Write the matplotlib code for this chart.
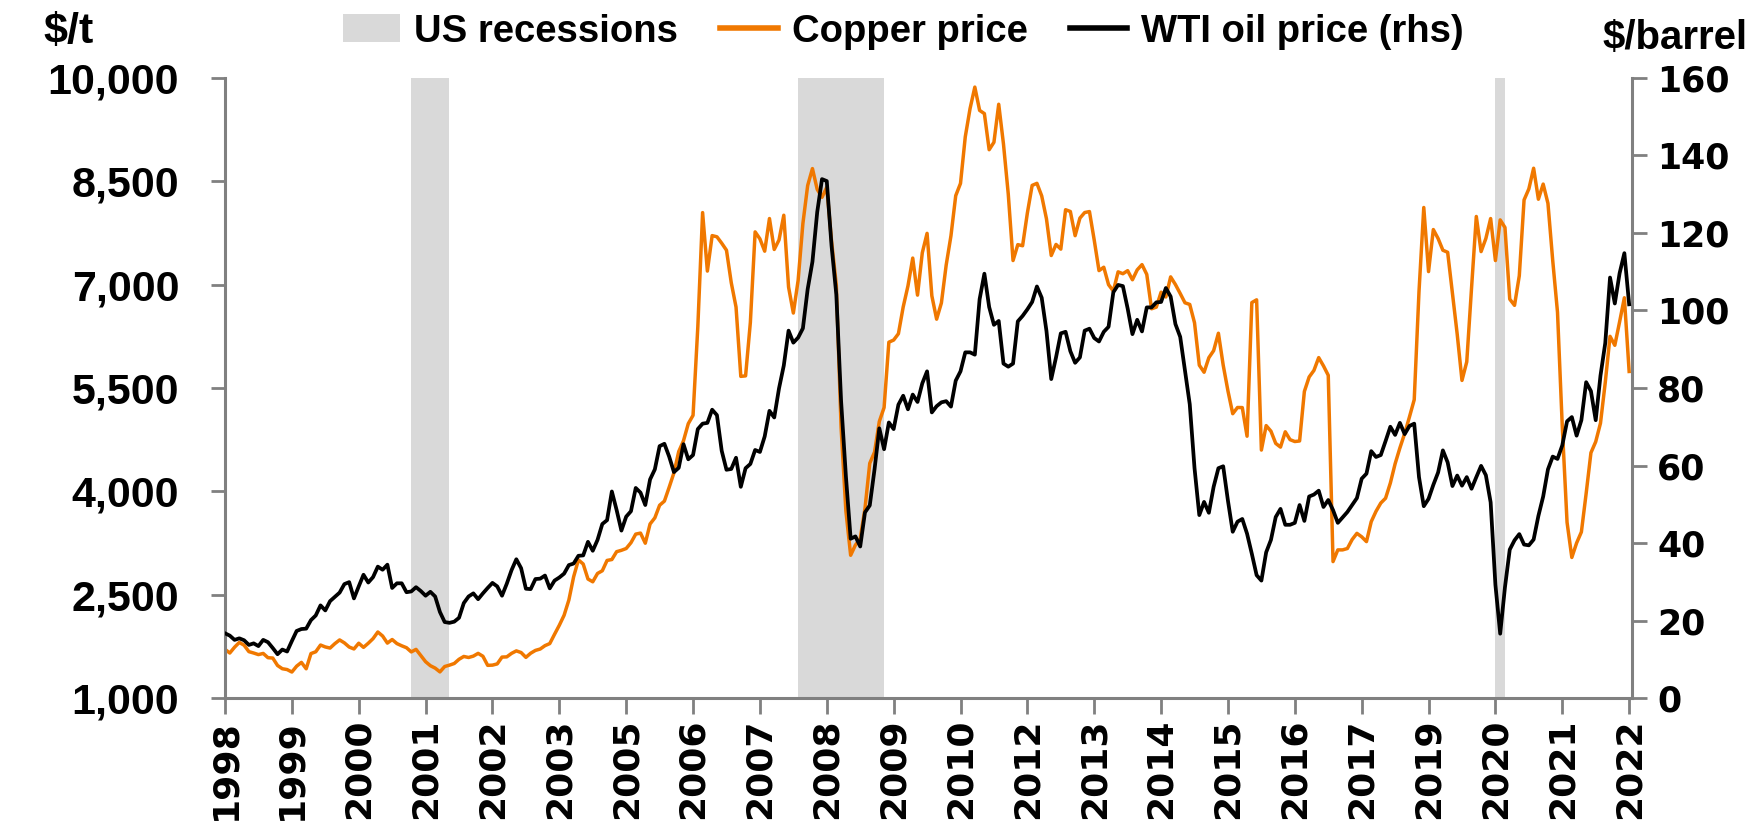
import matplotlib.pyplot as plt
import matplotlib.patches as mpatches
import matplotlib.lines as mlines
import pandas as pd


# monthly data, Jan 1998 .. Jul 2022
dates = pd.date_range('1998-01-01', periods=295, freq='MS')

copper = [
	1707, 1653, 1737, 1807, 1766, 1673, 1653, 1630, 1647, 1585, 1580, 1472,
	1425, 1413, 1377, 1462, 1517, 1424, 1645, 1671, 1769, 1741, 1725, 1789,
	1843, 1800, 1740, 1712, 1795, 1735, 1795, 1862, 1958, 1900, 1797, 1849,
	1790, 1758, 1730, 1669, 1706, 1616, 1527, 1469, 1434, 1379, 1457, 1477,
	1501, 1562, 1603, 1588, 1608, 1648, 1606, 1474, 1477, 1495, 1594, 1597,
	1648, 1684, 1660, 1590, 1650, 1691, 1711, 1760, 1790, 1925, 2056, 2201,
	2423, 2760, 3005, 2945, 2727, 2687, 2808, 2847, 2997, 3010, 3124, 3144,
	3170, 3254, 3379, 3394, 3247, 3526, 3615, 3798, 3858, 4059, 4269, 4577,
	4734, 4982, 5103, 6388, 8046, 7197, 7712, 7695, 7602, 7500, 7029, 6675,
	5669, 5676, 6452, 7766, 7665, 7486, 7960, 7511, 7649, 8008, 6965, 6588,
	7061, 7888, 8439, 8685, 8383, 8268, 8414, 7634, 6990, 4926, 3717, 3072,
	3221, 3315, 3750, 4407, 4569, 5014, 5216, 6165, 6196, 6288, 6676, 6982,
	7386, 6848, 7463, 7745, 6838, 6499, 6735, 7284, 7709, 8292, 8470, 9147,
	9556, 9868, 9530, 9483, 8959, 9067, 9619, 9040, 8315, 7350, 7581, 7565,
	8040, 8441, 8471, 8289, 7955, 7423, 7584, 7516, 8088, 8062, 7711, 7966,
	8047, 8061, 7646, 7204, 7253, 7000, 6907, 7186, 7159, 7203, 7071, 7215,
	7291, 7149, 6650, 6674, 6891, 6821, 7113, 7002, 6872, 6737, 6713, 6446,
	5831, 5729, 5940, 6042, 6295, 5833, 5457, 5127, 5217, 5216, 4800, 6740,
	6780, 4599, 4954, 4873, 4696, 4642, 4864, 4750, 4723, 4731, 5450, 5660,
	5755, 5941, 5821, 5684, 2980, 3150, 3150, 3170, 3300, 3390, 3340, 3270,
	3560, 3710, 3830, 3900, 4120, 4400, 4630, 4840, 5080, 5330, 6900, 8120,
	7190, 7800, 7670, 7500, 7470, 6870, 6280, 5610, 5880, 6950, 7990, 7480,
	7670, 7960, 7350, 7940, 7830, 6790, 6700, 7130, 8230, 8390, 8690, 8240,
	8460, 8180, 7350, 6600, 4940, 3550, 3040, 3250, 3410, 3970, 4560, 4720,
	4990, 5580, 6250, 6120, 6460, 6810, 5740,
]

wti = [
	16.7, 16.1, 15.0, 15.4, 14.9, 13.7, 14.1, 13.4, 15.0, 14.4, 12.9, 11.3,
	12.5, 12.0, 14.7, 17.3, 17.8, 17.9, 20.1, 21.3, 23.9, 22.6, 25.0, 26.1,
	27.2, 29.4, 29.9, 25.7, 28.8, 31.8, 29.8, 31.2, 33.9, 33.1, 34.4, 28.4,
	29.6, 29.6, 27.3, 27.5, 28.6, 27.6, 26.4, 27.4, 26.2, 22.2, 19.6, 19.4,
	19.7, 20.7, 24.5, 26.2, 27.0, 25.5, 27.0, 28.4, 29.7, 28.8, 26.4, 29.5,
	33.0, 35.8, 33.5, 28.2, 28.1, 30.7, 30.8, 31.6, 28.3, 30.3, 31.1, 32.1,
	34.3, 34.7, 36.7, 36.8, 40.3, 38.0, 40.8, 44.9, 45.9, 53.3, 48.5, 43.2,
	46.8, 48.2, 54.2, 53.0, 49.8, 56.4, 59.0, 65.0, 65.6, 62.3, 58.3, 59.4,
	65.5, 61.6, 62.7, 69.4, 70.8, 71.0, 74.4, 73.0, 63.8, 58.9, 59.1, 62.0,
	54.5, 59.3, 60.4, 64.0, 63.5, 67.5, 74.1, 72.4, 79.9, 85.8, 94.8, 91.7,
	93.0, 95.4, 105.5, 112.6, 125.4, 133.9, 133.4, 116.7, 104.1, 76.6, 57.3, 41.1,
	41.7, 39.1, 47.9, 49.7, 59.0, 69.6, 64.2, 71.1, 69.4, 75.7, 78.0, 74.5,
	78.3, 76.4, 81.2, 84.3, 73.7, 75.3, 76.3, 76.6, 75.2, 81.9, 84.3, 89.2,
	89.2, 88.6, 102.9, 109.5, 100.9, 96.3, 97.3, 86.3, 85.5, 86.3, 97.2, 98.6,
	100.3, 102.2, 106.2, 103.3, 94.7, 82.3, 87.9, 94.1, 94.5, 89.5, 86.5, 87.9,
	94.8, 95.3, 92.9, 92.0, 94.5, 95.8, 104.7, 106.6, 106.3, 100.5, 93.9, 97.6,
	94.6, 100.8, 100.8, 102.1, 102.2, 105.8, 103.6, 96.5, 93.2, 84.4, 75.8, 59.3,
	47.2, 50.6, 47.8, 54.5, 59.3, 59.8, 50.9, 42.9, 45.5, 46.2, 42.4, 37.2,
	31.7, 30.3, 37.6, 40.8, 46.7, 48.8, 44.7, 44.7, 45.2, 49.8, 45.7, 52.0,
	52.5, 53.5, 49.3, 51.1, 48.5, 45.2, 46.6, 48.0, 49.8, 51.6, 56.6, 57.9,
	63.7, 62.2, 62.7, 66.3, 70.0, 67.9, 71.0, 68.1, 70.2, 70.8, 57.0, 49.5,
	51.4, 55.0, 58.2, 63.9, 60.8, 54.7, 57.4, 54.8, 57.0, 54.0, 57.0, 59.9,
	57.5, 50.5, 29.2, 16.6, 28.6, 38.3, 40.7, 42.3, 39.6, 39.4, 40.9, 47.0,
	52.0, 59.0, 62.3, 61.7, 65.2, 71.4, 72.5, 67.7, 71.7, 81.5, 79.2, 71.7,
	83.2, 91.6, 108.5, 101.8, 109.6, 114.8, 101.6,
]

recessions = [('2001-04', '2001-11'), ('2008-01', '2009-06'), ('2020-03', '2020-04')]

copper_ticks = [1000, 2500, 4000, 5500, 7000, 8500, 10000]
oil_ticks = [0, 20, 40, 60, 80, 100, 120, 140, 160]

orange = '#f07800'
grey = '#808080'
label_font = ['Liberation Sans', 'DejaVu Sans']


def month_pos(s):
	d = pd.Timestamp(s + '-01')
	return (d.year - dates[0].year) * 12 + d.month - dates[0].month


x = list(range(len(dates)))

fig = plt.figure(figsize=(17.53, 8.36), dpi=100)
ax = fig.add_axes([0.12835, 0.16507, 0.80263, 0.74163])
ax2 = ax.twinx()

for start, end in recessions:
	ax.axvspan(month_pos(start), month_pos(end) + 1, color='#d9d9d9', lw=0, zorder=0)

ax.plot(x, copper, color=orange, lw=2.5, zorder=2)
ax2.plot(x, wti, color='black', lw=2.7, zorder=3)

ax.set_xlim(0, 294.6)
ax.set_ylim(1000, 10000)
ax2.set_ylim(0, 160)

ax.set_yticks(copper_ticks)
ax.set_yticklabels([f'{v:,}' for v in copper_ticks], family='Liberation Sans', weight='bold', fontsize=31)
ax2.set_yticks(oil_ticks)
ax2.set_yticklabels([str(v) for v in oil_ticks], family='DejaVu Sans', weight='bold', fontsize=25)

tick_pos = x[::14]
ax.set_xticks(tick_pos)
ax.set_xticklabels([str(dates[i].year) for i in tick_pos], rotation=90,
	family='DejaVu Sans', weight='bold', fontsize=26)

for a in (ax, ax2):
	a.spines['top'].set_visible(False)
	for s in a.spines.values():
		s.set_color(grey)
		s.set_linewidth(2.2)
ax.spines['right'].set_visible(False)
ax2.spines['left'].set_visible(False)
ax2.spines['bottom'].set_visible(False)

ax.tick_params(axis='y', length=10, width=2, color=grey, pad=23)
ax.tick_params(axis='x', length=11.5, width=2, color=grey, pad=3.5)
ax2.tick_params(axis='y', length=11, width=2, color=grey, pad=7)

fig.text(0.025, 0.962, '$/t', family=label_font, weight='bold', fontsize=31, ha='left', va='center')
fig.text(0.997, 0.955, '$/barrel', family=label_font, weight='bold', fontsize=29, ha='right', va='center')

handles = [
	mpatches.Patch(color='#d9d9d9', lw=0),
	mlines.Line2D([], [], color=orange, lw=4),
	mlines.Line2D([], [], color='black', lw=4),
]
labels = ['US recessions', 'Copper price', 'WTI oil price (rhs)']
fig.legend(handles, labels, loc='center left', bbox_to_anchor=(0.1957, 0.962), ncol=3,
	frameon=False, borderpad=0, borderaxespad=0, handlelength=1.5, handleheight=0.75,
	handletextpad=0.37, columnspacing=1.1,
	prop={'family': label_font, 'weight': 'bold', 'size': 27.5})

fig.savefig('out.png', dpi=100)
